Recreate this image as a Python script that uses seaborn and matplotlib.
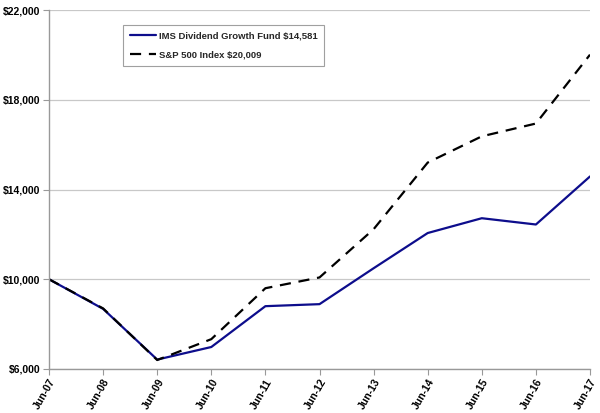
import matplotlib
matplotlib.use("Agg")
import matplotlib.pyplot as plt
import seaborn as sns
import pandas as pd
from matplotlib.ticker import FuncFormatter

dates = ["Jun-07", "Jun-08", "Jun-09", "Jun-10", "Jun-11", "Jun-12",
         "Jun-13", "Jun-14", "Jun-15", "Jun-16", "Jun-17"]
fund = [10000, 8680, 6420, 6980, 8800, 8890, 10490, 12060, 12720, 12440, 14581]
sp500 = [10000, 8700, 6400, 7330, 9600, 10080, 12230, 15200, 16370, 16940, 20009]
fund_label = "IMS Dividend Growth Fund $14,581"
sp_label = "S&P 500 Index $20,009"
yticks = [6000, 10000, 14000, 18000, 22000]

sns.set_theme(style="white")
plt.rcParams['font.family'] = ['Liberation Sans', 'DejaVu Sans']

df = pd.DataFrame({"x": list(range(len(dates))) * 2,
                   "value": fund + sp500,
                   "series": [fund_label] * len(dates) + [sp_label] * len(dates)})

fig = plt.figure(figsize=(6, 4.13), dpi=100)
ax = fig.add_axes([49/600, 1 - 369/413, (590-49)/600, (369-10)/413])

sns.lineplot(data=df[df.series == fund_label], x="x", y="value", ax=ax,
             color="#0d0d8c", lw=1.6, label=fund_label)
sns.lineplot(data=df[df.series == sp_label], x="x", y="value", ax=ax,
             color="black", lw=1.6, dashes=False, label=sp_label)
ax.lines[1].set_dashes([5, 3.5])

ax.set_xlim(0, len(dates) - 1)
ax.set_ylim(6000, 22000)
ax.set_yticks(yticks)
ax.yaxis.set_major_formatter(FuncFormatter(lambda v, p: f"${v:,.0f}"))
ax.set_xticks(range(len(dates)))
ax.set_xticklabels(dates, rotation=60, ha="right", rotation_mode="anchor")
for lab in ax.get_xticklabels() + ax.get_yticklabels():
    lab.set_fontweight("bold")
    lab.set_fontsize(7.5)
    lab.set_color("black")
ax.set_xlabel("")
ax.set_ylabel("")
ax.grid(axis="y", color="#c8c8c8", lw=0.9)
ax.grid(axis="x", visible=False)
for s in ["top", "right"]:
    ax.spines[s].set_visible(False)
for s in ["left", "bottom"]:
    ax.spines[s].set_color("#999999")
    ax.spines[s].set_linewidth(1.0)
ax.tick_params(axis="both", which="major", length=4, width=0.8, color="#999999",
               direction="out", bottom=True, left=True, pad=2)

leg = ax.legend(loc="upper left", bbox_to_anchor=((123-49)/541, (369-25)/359),
                borderaxespad=0,
                frameon=True, fancybox=False, edgecolor="#888888",
                prop={"weight": "bold", "size": 6.8}, handlelength=2.8,
                handletextpad=0.3, borderpad=0.7, labelspacing=1.0)
leg.get_frame().set_linewidth(0.8)

fig.savefig("out.png", dpi=100)
